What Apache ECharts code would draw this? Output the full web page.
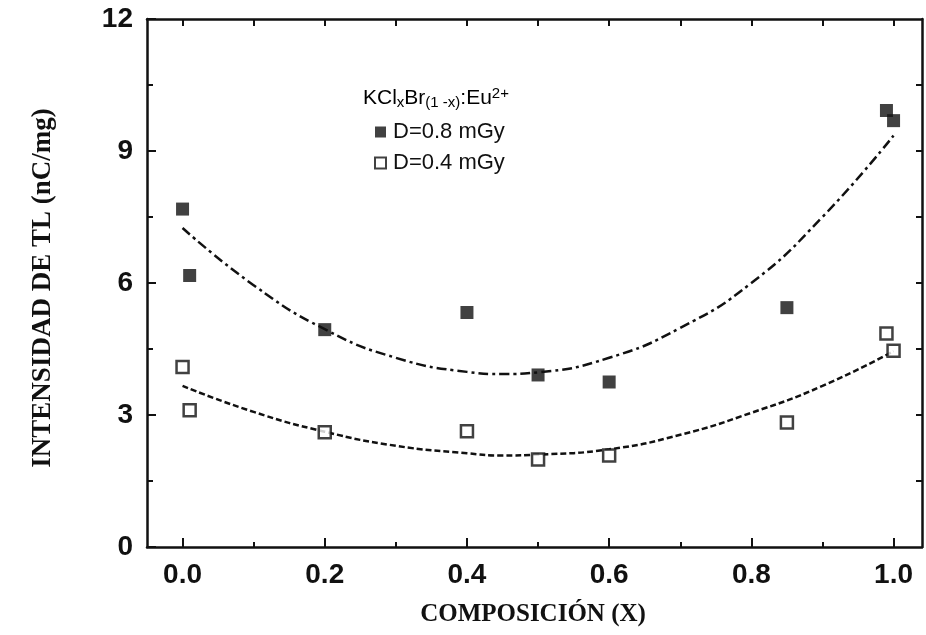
<!DOCTYPE html>
<html>
<head>
<meta charset="utf-8">
<script src="https://cdn.jsdelivr.net/npm/echarts@6/dist/echarts.min.js"></script>
<style>
  html, body { margin: 0; padding: 0; background: #fff; }
  #chart { width: 926px; height: 635px; }
</style>
</head>
<body>
<div id="chart"></div>
<script>
// measured points, composition x
const xPoints = [0.0, 0.01, 0.2, 0.4, 0.5, 0.6, 0.85, 0.99, 1.0];
const yHigh = [7.68, 6.17, 4.94, 5.33, 3.91, 3.75, 5.44, 9.92, 9.69];   // D=0.8 mGy
const yLow = [4.09, 3.11, 2.61, 2.63, 1.99, 2.08, 2.83, 4.85, 4.46];    // D=0.4 mGy

// fitted curves (0.45 added near the minimum)
const xFit = [0.0, 0.1, 0.2, 0.3, 0.4, 0.45, 0.5, 0.6, 0.7, 0.8, 0.9, 1.0];
const fitHigh = [7.25, 5.95, 4.95, 4.3, 3.98, 3.93, 3.97, 4.3, 4.98, 6.0, 7.5, 9.35];
const fitLow = [3.66, 3.07, 2.62, 2.3, 2.13, 2.08, 2.1, 2.22, 2.55, 3.05, 3.66, 4.45];

// ticks
const xMajor = [0, 0.2, 0.4, 0.6, 0.8, 1.0];
const xMinor = [0.1, 0.3, 0.5, 0.7, 0.9];
const xTop = [0, 0.1, 0.2, 0.3, 0.4, 0.5, 0.6, 0.7, 0.8, 0.9, 1.0];
const yMinor = [1.5, 4.5, 7.5, 10.5];
const yRight = [1.5, 3, 4.5, 6, 7.5, 9, 10.5];

const INK = "#111";
const zip = (xs, ys) => xs.map((x, i) => [x, ys[i]]);

const chart = echarts.init(document.getElementById("chart"), null, { renderer: "canvas" });

const axisLine = { show: true, onZero: false, lineStyle: { color: INK, width: 2.5 } };
const noLine = { show: false, onZero: false };
const noLabel = { show: false };

const option = {
    animation: false,
    backgroundColor: "#fff",
    grid: { left: 147, right: 4, top: 19, bottom: 88, containLabel: false },
    xAxis: [
        {
            type: "value", position: "bottom", min: -0.05, max: 1.04,
            axisLine: axisLine,
            axisTick: { show: true, inside: true, length: 9, customValues: xMajor, lineStyle: { color: INK, width: 2 } },
            axisLabel: {
                show: true, customValues: xMajor, margin: 14,
                formatter: v => v.toFixed(1),
                fontFamily: "Liberation Sans", fontWeight: "bold", fontSize: 28, color: INK
            },
            splitLine: { show: false }
        },
        {
            type: "value", position: "bottom", min: -0.05, max: 1.04,
            axisLine: noLine,
            axisTick: { show: true, inside: true, length: 5, customValues: xMinor, lineStyle: { color: INK, width: 2 } },
            axisLabel: noLabel, splitLine: { show: false }
        },
        {
            type: "value", position: "top", min: -0.05, max: 1.04,
            axisLine: axisLine,
            axisTick: { show: true, inside: true, length: 7, customValues: xTop, lineStyle: { color: INK, width: 2 } },
            axisLabel: noLabel, splitLine: { show: false }
        }
    ],
    yAxis: [
        {
            type: "value", position: "left", min: 0, max: 12, interval: 3,
            axisLine: axisLine,
            axisTick: { show: true, inside: true, length: 9, lineStyle: { color: INK, width: 2 } },
            axisLabel: {
                show: true, margin: 14,
                fontFamily: "Liberation Sans", fontWeight: "bold", fontSize: 28, color: INK
            },
            splitLine: { show: false }
        },
        {
            type: "value", position: "left", min: 0, max: 12,
            axisLine: noLine,
            axisTick: { show: true, inside: true, length: 6, customValues: yMinor, lineStyle: { color: INK, width: 2 } },
            axisLabel: noLabel, splitLine: { show: false }
        },
        {
            type: "value", position: "right", min: 0, max: 12,
            axisLine: axisLine,
            axisTick: { show: true, inside: true, length: 6, customValues: yRight, lineStyle: { color: INK, width: 2 } },
            axisLabel: noLabel, splitLine: { show: false }
        }
    ],
    legend: {
        data: ["D=0.8 mGy", "D=0.4 mGy"],
        orient: "vertical",
        left: 369, top: 116,
        itemWidth: 11, itemHeight: 11, itemGap: 9,
        textStyle: { fontFamily: "Liberation Sans", fontSize: 22, color: INK, padding: [0, 0, 0, 2] }
    },
    series: [
        {
            name: "fit 0.8", type: "line", smooth: true, symbol: "none",
            data: zip(xFit, fitHigh),
            lineStyle: { color: INK, width: 2.5, type: [10, 4, 3, 4] },
            z: 2
        },
        {
            name: "fit 0.4", type: "line", smooth: true, symbol: "none",
            data: zip(xFit, fitLow),
            lineStyle: { color: INK, width: 2.5, type: [6, 3] },
            z: 2
        },
        {
            name: "D=0.8 mGy", type: "scatter", symbol: "rect", symbolSize: 13,
            data: zip(xPoints, yHigh),
            itemStyle: { color: INK },
            z: 3
        },
        {
            name: "D=0.4 mGy", type: "scatter", symbol: "rect", symbolSize: 12,
            data: zip(xPoints, yLow),
            itemStyle: { color: "#fff", borderColor: INK, borderWidth: 2.5 },
            z: 3
        }
    ],
    graphic: [
        {
            type: "text", left: 363, top: 84,
            style: {
                text: "{m|KCl}{s|x}{m|Br}{s|(1 -x)}{m|:Eu}{p|2+}",
                rich: {
                    m: { fontFamily: "Liberation Sans", fontSize: 21, color: INK, lineHeight: 28, verticalAlign: "middle" },
                    s: { fontFamily: "Liberation Sans", fontSize: 15, color: INK, lineHeight: 28, verticalAlign: "bottom", padding: [0, 0, 2, 0] },
                    p: { fontFamily: "Liberation Sans", fontSize: 15, color: INK, lineHeight: 28, verticalAlign: "top", padding: [2, 0, 0, 0] }
                }
            }
        },
        {
            type: "text", x: 533, y: 615,
            style: {
                text: "COMPOSICIÓN (X)",
                fontFamily: "Liberation Serif", fontWeight: "bold", fontSize: 25, fill: INK,
                align: "center", verticalAlign: "middle"
            }
        },
        {
            type: "text", x: 43, y: 288, rotation: Math.PI / 2,
            style: {
                text: "INTENSIDAD DE TL (nC/mg)",
                fontFamily: "Liberation Serif", fontWeight: "bold", fontSize: 27, fill: INK,
                align: "center", verticalAlign: "middle"
            }
        }
    ]
};

chart.setOption(option);
</script>
</body>
</html>
